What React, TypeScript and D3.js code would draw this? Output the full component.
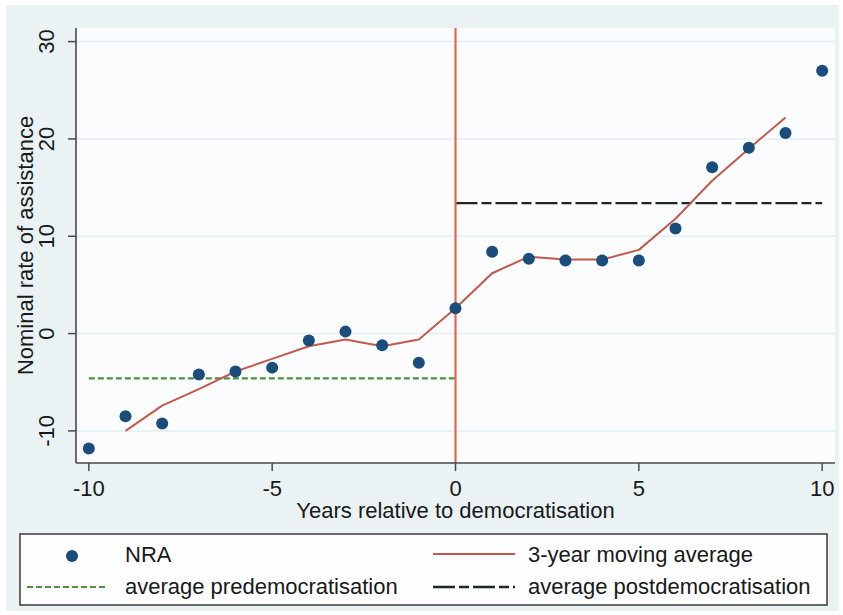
import React from "react";
import * as d3 from "d3";

// NRA by year relative to democratisation
const years = [-10, -9, -8, -7, -6, -5, -4, -3, -2, -1, 0, 1, 2, 3, 4, 5, 6, 7, 8, 9, 10];
const nra = [-11.8, -8.5, -9.25, -4.2, -3.9, -3.5, -0.7, 0.2, -1.2, -3.0, 2.6, 8.4, 7.7, 7.5, 7.5, 7.5, 10.8, 17.1, 19.1, 20.6, 27.0];

// 3-year moving average (centred)
const maYears = [-9, -8, -7, -6, -5, -4, -3, -2, -1, 0, 1, 2, 3, 4, 5, 6, 7, 8, 9];
const maValues = [-10.0, -7.4, -5.7, -3.9, -2.6, -1.3, -0.6, -1.3, -0.6, 2.6, 6.2, 7.9, 7.6, 7.6, 8.6, 11.8, 15.7, 19.0, 22.2];

const preAvg = { from: -10, to: 0, value: -4.6 };
const postAvg = { from: 0, to: 10, value: 13.4 };

const xTicks = [-10, -5, 0, 5, 10];
const yTicks = [-10, 0, 10, 20, 30];

const legendItems = ["NRA", "3-year moving average", "average predemocratisation", "average postdemocratisation"];

const width = 843;
const height = 615;
const plot = { left: 76, right: 835, top: 28, bottom: 463 };

const font = "'Liberation Sans', Arial, sans-serif";
const fs = 22;
const textColor = "#161a1a";
const axisColor = "#4a4a4a";
const dotColor = "#1b4d7c";
const maColor = "#bf5a4c";
const vlineColor = "#e0684f";
const greenColor = "#4f9040";
const blackDash = "#1e2626";

const App = (): JSX.Element => {
    const x = d3.scaleLinear().domain([-10.35, 10.35]).range([plot.left, plot.right]);
    const y = d3.scaleLinear().domain([-13.3, 31.4]).range([plot.bottom, plot.top]);

    const line = d3
        .line<number>()
        .x((d, i) => x(maYears[i]))
        .y((d) => y(d));

    return (
        <svg width={width} height={height} style={{ position: "absolute", left: 0, top: 0 }} fontFamily={font}>
            <rect x={0} y={0} width={width} height={height} fill="#ffffff" />
            <rect x={6} y={5} width={833} height={606} fill="#eaf2f3" />
            <rect x={plot.left} y={plot.top} width={plot.right - plot.left} height={plot.bottom - plot.top} fill="#fbfcfd" />

            {/* grid */}
            {yTicks.map((t) => (
                <line key={"g" + t} x1={plot.left} x2={plot.right} y1={y(t)} y2={y(t)} stroke="#e2eef2" strokeWidth={1.5} />
            ))}

            {/* averages */}
            <line
                x1={x(preAvg.from)}
                x2={x(preAvg.to)}
                y1={y(preAvg.value)}
                y2={y(preAvg.value)}
                stroke={greenColor}
                strokeWidth={2.2}
                strokeDasharray="6,3"
            />
            <line
                x1={x(postAvg.from)}
                x2={x(postAvg.to)}
                y1={y(postAvg.value)}
                y2={y(postAvg.value)}
                stroke={blackDash}
                strokeWidth={2.4}
                strokeDasharray="22,4,10,4"
            />

            {/* moving average */}
            <path d={line(maValues) || ""} fill="none" stroke={maColor} strokeWidth={2} strokeLinejoin="round" />

            {/* democratisation line */}
            <line x1={x(0)} x2={x(0)} y1={plot.top} y2={plot.bottom} stroke={vlineColor} strokeWidth={2.2} />

            {/* points */}
            {nra.map((v, i) => (
                <circle key={"p" + i} cx={x(years[i])} cy={y(v)} r={6} fill={dotColor} />
            ))}

            {/* axes */}
            <line x1={plot.left} x2={plot.left} y1={plot.top} y2={plot.bottom} stroke={axisColor} strokeWidth={1.6} />
            <line x1={plot.left} x2={plot.right} y1={plot.bottom} y2={plot.bottom} stroke={axisColor} strokeWidth={1.6} />
            {yTicks.map((t) => (
                <g key={"yt" + t}>
                    <line x1={plot.left - 8} x2={plot.left} y1={y(t)} y2={y(t)} stroke={axisColor} strokeWidth={1.5} />
                    <text
                        transform={`translate(${54},${y(t)}) rotate(-90)`}
                        textAnchor="middle"
                        fontSize={fs}
                        fill={textColor}
                    >
                        {t}
                    </text>
                </g>
            ))}
            {xTicks.map((t) => (
                <g key={"xt" + t}>
                    <line x1={x(t)} x2={x(t)} y1={plot.bottom} y2={plot.bottom + 8} stroke={axisColor} strokeWidth={1.5} />
                    <text x={x(t)} y={496} textAnchor="middle" fontSize={fs} fill={textColor}>
                        {t}
                    </text>
                </g>
            ))}
            <text x={(plot.left + plot.right) / 2} y={518} textAnchor="middle" fontSize={fs} fill={textColor}>
                Years relative to democratisation
            </text>
            <text
                transform={`translate(${33},${(plot.top + plot.bottom) / 2}) rotate(-90)`}
                textAnchor="middle"
                fontSize={fs}
                fill={textColor}
            >
                Nominal rate of assistance
            </text>

            {/* legend */}
            <rect x={20} y={534} width={807} height={71} fill="#fdfdfd" stroke="#3a3a3a" strokeWidth={1.5} />
            <circle cx={72} cy={556} r={6} fill={dotColor} />
            <text x={125} y={562} fontSize={fs} fill={textColor}>
                {legendItems[0]}
            </text>
            <line x1={433} x2={515} y1={554} y2={554} stroke={maColor} strokeWidth={2} />
            <text x={528} y={562} fontSize={fs} fill={textColor}>
                {legendItems[1]}
            </text>
            <line x1={27} x2={108} y1={587} y2={587} stroke={greenColor} strokeWidth={2.2} strokeDasharray="6,3" />
            <text x={125} y={594} fontSize={fs} fill={textColor}>
                {legendItems[2]}
            </text>
            <line x1={433} x2={515} y1={587} y2={587} stroke={blackDash} strokeWidth={2.4} strokeDasharray="22,4,10,4" />
            <text x={528} y={594} fontSize={fs} fill={textColor}>
                {legendItems[3]}
            </text>
        </svg>
    );
};

export default App;
